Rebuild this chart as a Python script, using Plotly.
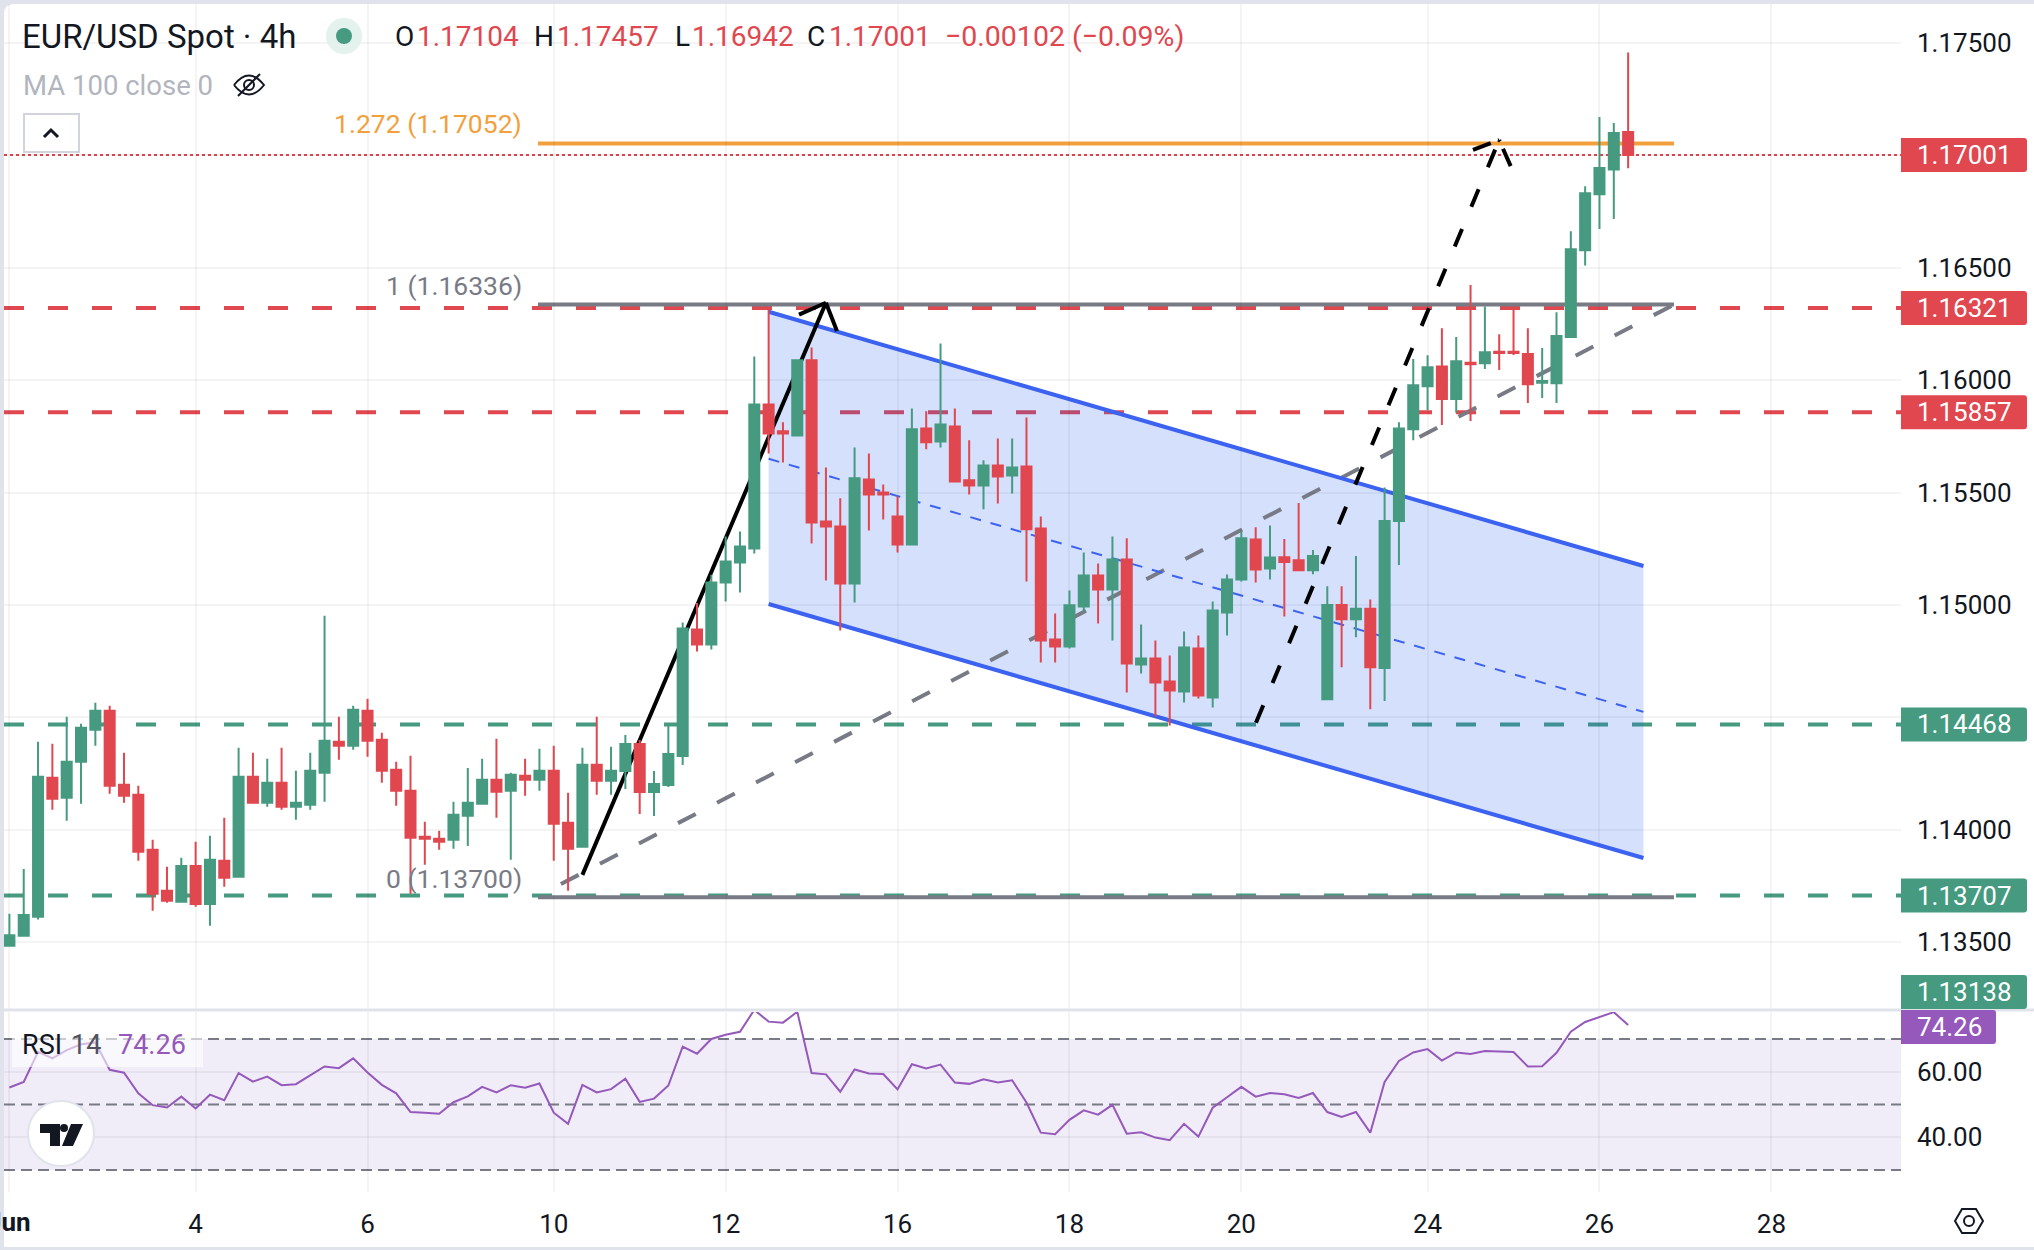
import plotly.graph_objs as go

W = 2034
H = 1250

# candle values, one per 4h bar
opens = [1.13484, 1.13528, 1.13613, 1.14231, 1.14142, 1.14302, 1.14445, 1.14529, 1.14200, 1.14155,
         1.13911, 1.13728, 1.13679, 1.13839, 1.13670, 1.13862, 1.13791, 1.14235, 1.14120, 1.14209,
         1.14102, 1.14111, 1.14253, 1.14391, 1.14373, 1.14529, 1.14400, 1.14267, 1.14173, 1.13969,
         1.13960, 1.13955, 1.14062, 1.14115, 1.14222, 1.14173, 1.14240, 1.14222, 1.14262, 1.14031,
         1.13924, 1.14289, 1.14218, 1.14261, 1.14381, 1.14168, 1.14199, 1.14328, 1.14891, 1.14824,
         1.15100, 1.15189, 1.15251, 1.15892, 1.15772, 1.15754, 1.16088, 1.15371, 1.15349, 1.15095,
         1.15558, 1.15500, 1.15393, 1.15269, 1.15785, 1.15727, 1.15794, 1.15554, 1.15531, 1.15620,
         1.15576, 1.15616, 1.15340, 1.14846, 1.14815, 1.14993, 1.15131, 1.15069, 1.15202, 1.14735,
         1.14762, 1.14659, 1.14615, 1.14806, 1.14588, 1.14966, 1.15113, 1.15291, 1.15162, 1.15212,
         1.15199, 1.15154, 1.14580, 1.14999, 1.14936, 1.14983, 1.14719, 1.15373, 1.15781, 1.15973,
         1.16061, 1.15916, 1.16077, 1.16075, 1.16126, 1.16126, 1.16116, 1.15988, 1.15986, 1.16192,
         1.16578, 1.16827, 1.16937, 1.17104]
highs = [1.13626, 1.13825, 1.14391, 1.14382, 1.14502, 1.14471, 1.14565, 1.14551, 1.14342, 1.14195,
         1.13955, 1.13835, 1.13875, 1.13946, 1.13973, 1.14053, 1.14364, 1.14342, 1.14316, 1.14364,
         1.14262, 1.14342, 1.14952, 1.14502, 1.14551, 1.14582, 1.14431, 1.14302, 1.14329, 1.14035,
         1.13995, 1.14124, 1.14275, 1.14316, 1.14405, 1.14253, 1.14316, 1.14360, 1.14373, 1.14164,
         1.14364, 1.14502, 1.14369, 1.14421, 1.14399, 1.14261, 1.14470, 1.14922, 1.15008, 1.15134,
         1.15304, 1.15327, 1.16105, 1.16314, 1.15812, 1.16092, 1.16145, 1.15611, 1.15474, 1.15700,
         1.15674, 1.15536, 1.15482, 1.15874, 1.15861, 1.16163, 1.15874, 1.15732, 1.15643, 1.15740,
         1.15740, 1.15834, 1.15393, 1.14962, 1.15064, 1.15233, 1.15184, 1.15304, 1.15296, 1.14913,
         1.14842, 1.14775, 1.14882, 1.14864, 1.15015, 1.15135, 1.15327, 1.15345, 1.15353, 1.15293,
         1.15453, 1.15244, 1.15083, 1.15083, 1.15218, 1.15024, 1.15522, 1.15812, 1.16094, 1.16110,
         1.16231, 1.16192, 1.16423, 1.16327, 1.16204, 1.16316, 1.16231, 1.16143, 1.16302, 1.16662,
         1.16862, 1.17170, 1.17144, 1.17457]
lows = [1.13484, 1.13528, 1.13601, 1.14089, 1.14040, 1.14115, 1.14373, 1.14160, 1.14120, 1.13862,
        1.13639, 1.13675, 1.13679, 1.13657, 1.13573, 1.13746, 1.13786, 1.14120, 1.14102, 1.14089,
        1.14044, 1.14089, 1.14124, 1.14311, 1.14356, 1.14324, 1.14209, 1.14106, 1.13715, 1.13844,
        1.13911, 1.13915, 1.13928, 1.14111, 1.14053, 1.13866, 1.14151, 1.14173, 1.13862, 1.13728,
        1.13920, 1.14155, 1.14155, 1.14181, 1.14070, 1.14061, 1.14190, 1.14288, 1.14793, 1.14802,
        1.15015, 1.15055, 1.15229, 1.15674, 1.15634, 1.15754, 1.15273, 1.15109, 1.14886, 1.15011,
        1.15331, 1.15380, 1.15233, 1.15269, 1.15692, 1.15700, 1.15545, 1.15491, 1.15425, 1.15451,
        1.15496, 1.15104, 1.14744, 1.14744, 1.14806, 1.14966, 1.14917, 1.14842, 1.14610, 1.14695,
        1.14504, 1.14464, 1.14566, 1.14584, 1.14544, 1.14864, 1.15104, 1.15100, 1.15113, 1.14948,
        1.15154, 1.15136, 1.14576, 1.14723, 1.14856, 1.14536, 1.14572, 1.15177, 1.15732, 1.15867,
        1.15800, 1.15855, 1.15818, 1.16049, 1.16045, 1.16112, 1.15898, 1.15920, 1.15898, 1.16192,
        1.16510, 1.16672, 1.16717, 1.16942]
closes = [1.13531, 1.13620, 1.14235, 1.14138, 1.14302, 1.14453, 1.14529, 1.14195, 1.14151, 1.13902,
          1.13715, 1.13684, 1.13839, 1.13670, 1.13866, 1.13786, 1.14235, 1.14120, 1.14209, 1.14102,
          1.14120, 1.14262, 1.14396, 1.14373, 1.14534, 1.14396, 1.14262, 1.14173, 1.13964, 1.13960,
          1.13946, 1.14066, 1.14120, 1.14222, 1.14169, 1.14244, 1.14222, 1.14262, 1.14026, 1.13915,
          1.14289, 1.14218, 1.14262, 1.14381, 1.14168, 1.14203, 1.14337, 1.14895, 1.14824, 1.15100,
          1.15193, 1.15260, 1.15892, 1.15763, 1.15763, 1.16088, 1.15367, 1.15349, 1.15095, 1.15563,
          1.15491, 1.15491, 1.15269, 1.15781, 1.15723, 1.15803, 1.15549, 1.15531, 1.15620, 1.15571,
          1.15611, 1.15336, 1.14842, 1.14815, 1.14998, 1.15131, 1.15069, 1.15202, 1.14739, 1.14762,
          1.14655, 1.14619, 1.14811, 1.14597, 1.14975, 1.15113, 1.15296, 1.15158, 1.15211, 1.15191,
          1.15154, 1.15218, 1.14999, 1.14936, 1.14983, 1.14723, 1.15373, 1.15785, 1.15977, 1.16057,
          1.15916, 1.16084, 1.16071, 1.16124, 1.16120, 1.16120, 1.15981, 1.15996, 1.16196, 1.16582,
          1.16831, 1.16943, 1.17099, 1.17001]
rsi = [55.2, 56.9, 66.1, 64.1, 66.6, 68.4, 68.9, 60.6, 59.7, 53.4,
       49.8, 49.1, 52.4, 48.8, 53.0, 51.3, 59.6, 57.0, 58.5, 55.9,
       56.2, 58.8, 61.6, 61.1, 64.1, 59.8, 56.0, 53.4, 47.7, 47.5,
       47.2, 50.7, 52.5, 55.4, 53.7, 55.9, 55.1, 56.4, 47.5, 44.1,
       56.0, 53.7, 54.7, 57.9, 50.8, 51.8, 55.8, 67.7, 65.5, 70.0,
       71.3, 72.2, 78.9, 75.3, 75.0, 78.3, 59.6, 59.2, 53.9, 60.7,
       59.5, 59.3, 54.6, 62.3, 61.0, 62.2, 56.7, 56.3, 57.7, 56.7,
       57.4, 50.6, 41.4, 40.9, 45.3, 48.2, 46.9, 49.9, 41.1, 41.5,
       39.9, 39.1, 44.1, 40.2, 49.0, 52.2, 55.4, 52.4, 53.5, 53.1,
       52.0, 53.5, 47.7, 46.2, 47.7, 41.4, 56.9, 63.3, 65.9, 66.9,
       63.4, 65.9, 65.4, 66.3, 66.2, 66.0, 61.6, 61.7, 65.8, 72.2,
       75.2, 76.6, 78.2, 74.26]

bars = list(range(len(opens)))

# the month label is cut by the pane edge, so it goes in as an annotation
date_ticks = [0, 13, 25, 38, 50, 62, 74, 86, 99, 111, 123]
date_labels = ['', '4', '6', '10', '12', '16', '18', '20', '24', '26', '28']
month_label = 'Jun'
price_ticks = [1.135, 1.14, 1.145, 1.15, 1.155, 1.16, 1.165, 1.17, 1.175]
price_labels = ['1.13500', '1.14000', '', '1.15000', '1.15500', '1.16000', '1.16500', '', '1.17500']
rsi_ticks = [40, 60]
rsi_labels = ['40.00', '60.00']

# levels on the price pane
red_levels = [1.16321, 1.15857]
green_levels = [1.14468, 1.13707]
last_close = 1.17001
fib_levels = [1.137, 1.16336, 1.17052]
fib_bars = [36.9, 116.2]

# drawings (bar index, price)
fib_trend = [(38.5, 1.13758), (116.2, 1.16336)]
solid_arrow = [(40, 1.13799), (57, 1.16344)]
solid_barbs = [(55.12, 1.16291), (57.77, 1.16218)]
dashed_arrow = [(87.02, 1.14476), (104, 1.17068)]
dashed_barbs = [(102.17, 1.17024), (104.8, 1.16952)]
channel_bars = [53, 114.07]
channel_upper = [1.16304, 1.15173]
channel_mid = [1.1565, 1.14524]
channel_lower = [1.15004, 1.13874]

GREEN = '#459a80'
RED = '#e0474f'
GREY = '#787b86'
BLUE = '#3b62f0'
ORANGE = '#f2a03c'
PURPLE = '#9558bb'
INK = '#131722'
GRID = 'rgba(42,46,57,0.05)'
FONT = 'Roboto'

# pixel scale of the panes
BAR0 = 9.4
BAR_PX = 14.325
PANE_L = 4
PANE_R = 1901
PRICE_TOP = 4
PRICE_BOTTOM = 1011
RSI_TOP = 1012
RSI_BOTTOM = 1192
PRICE_PX = 22480
Y175 = 42.9


def price_y(p):
    return Y175 + (1.175 - p) * PRICE_PX


def px_x(x):
    return x / W


def px_y(y):
    return 1 - y / H


def path(points, close=False):
    cmds = []
    for n, pt in enumerate(points):
        cmds.append(('M' if n == 0 else 'L') + ' %.5f %.5f' % (px_x(pt[0]), px_y(pt[1])))
    return ' '.join(cmds) + (' Z' if close else '')


def badge(x0, x1, yc, h, color):
    y0 = yc - h / 2
    y1 = yc + h / 2
    r = 3
    d = 'M %.5f %.5f L %.5f %.5f Q %.5f %.5f %.5f %.5f L %.5f %.5f Q %.5f %.5f %.5f %.5f L %.5f %.5f Z' % (
        px_x(x0), px_y(y0), px_x(x1 - r), px_y(y0), px_x(x1), px_y(y0), px_x(x1), px_y(y0 + r),
        px_x(x1), px_y(y1 - r), px_x(x1), px_y(y1), px_x(x1 - r), px_y(y1), px_x(x0), px_y(y1))
    return dict(type='path', path=d, xref='paper', yref='paper', fillcolor=color,
                line=dict(width=0), layer='above')


def label(x, y, text, color, size=28, anchor='left'):
    return dict(x=px_x(x), y=px_y(y), xref='paper', yref='paper', text=text, showarrow=False,
                xanchor=anchor, yanchor='middle', font=dict(family=FONT, size=size, color=color),
                borderpad=0, borderwidth=0)


def seg(a, b, color, width, dash='solid'):
    return dict(type='line', x0=a[0], y0=a[1], x1=b[0], y1=b[1], xref='x', yref='y',
                line=dict(color=color, width=width, dash=dash), layer='below')


candles = go.Candlestick(
    x=bars, open=opens, high=highs, low=lows, close=closes,
    increasing=dict(line=dict(color=GREEN, width=2), fillcolor=GREEN),
    decreasing=dict(line=dict(color=RED, width=2), fillcolor=RED),
    whiskerwidth=0, showlegend=False, hoverinfo='skip',
    xaxis='x', yaxis='y',
)

rsi_line = go.Scatter(
    x=bars, y=rsi, mode='lines',
    line=dict(color=PURPLE, width=2), showlegend=False, hoverinfo='skip',
    xaxis='x2', yaxis='y2',
)

shapes = []

# page: grey edge with the white chart card on it
shapes.append(dict(type='path', xref='paper', yref='paper', layer='below', line=dict(width=0), fillcolor='white',
                   path='M %.5f %.5f Q %.5f %.5f %.5f %.5f L %.5f %.5f L %.5f %.5f L %.5f %.5f Z' % (
                       px_x(4), px_y(14), px_x(4), px_y(4), px_x(14), px_y(4),
                       px_x(2034), px_y(4), px_x(2034), px_y(1247), px_x(4), px_y(1247))))

# channel fill
shapes.append(dict(type='path', xref='x', yref='y', layer='below', line=dict(width=0),
                   fillcolor='rgba(41,98,240,0.2)',
                   path='M %f %f L %f %f L %f %f L %f %f Z' % (
                       channel_bars[0], channel_upper[0], channel_bars[1], channel_upper[1],
                       channel_bars[1], channel_lower[1], channel_bars[0], channel_lower[0])))

# horizontal levels
for level in red_levels:
    shapes.append(dict(type='line', xref='paper', yref='y', x0=px_x(PANE_L), x1=px_x(PANE_R), y0=level, y1=level,
                       line=dict(color=RED, width=4, dash='20px,24px'), layer='below'))
for level in green_levels:
    shapes.append(dict(type='line', xref='paper', yref='y', x0=px_x(PANE_L), x1=px_x(PANE_R), y0=level, y1=level,
                       line=dict(color=GREEN, width=4, dash='20px,24px'), layer='below'))
shapes.append(dict(type='line', xref='paper', yref='y', x0=px_x(PANE_L), x1=px_x(PANE_R), y0=last_close, y1=last_close,
                   line=dict(color=RED, width=2, dash='3px,3px'), layer='between'))

# fib retracement
shapes.append(seg((fib_bars[0], fib_levels[0]), (fib_bars[1], fib_levels[0]), GREY, 4))
shapes.append(seg((fib_bars[0], fib_levels[1]), (fib_bars[1], fib_levels[1]), GREY, 4))
shapes.append(seg((fib_bars[0], fib_levels[2]), (fib_bars[1], fib_levels[2]), ORANGE, 4))
shapes.append(seg(fib_trend[0], fib_trend[1], GREY, 4, '20px,24px'))

# channel lines
shapes.append(seg((channel_bars[0], channel_upper[0]), (channel_bars[1], channel_upper[1]), BLUE, 4))
shapes.append(seg((channel_bars[0], channel_lower[0]), (channel_bars[1], channel_lower[1]), BLUE, 4))
shapes.append(seg((channel_bars[0], channel_mid[0]), (channel_bars[1], channel_mid[1]), BLUE, 2, '11px,10px'))

# arrows
shapes.append(seg(solid_arrow[0], solid_arrow[1], 'black', 4))
for barb in solid_barbs:
    shapes.append(seg(barb, solid_arrow[1], 'black', 4))
shapes.append(seg(dashed_arrow[0], dashed_arrow[1], 'black', 4, '19px,24px'))
for barb in dashed_barbs:
    shapes.append(seg(barb, dashed_arrow[1], 'black', 4, '19px,8px'))

# RSI band and levels
shapes.append(dict(type='rect', xref='paper', yref='y2', x0=px_x(PANE_L), x1=px_x(PANE_R), y0=30, y1=70,
                   fillcolor='#f0edf8', line=dict(width=0), layer='below'))
for level in [70, 50, 30]:
    shapes.append(dict(type='line', xref='paper', yref='y2', x0=px_x(PANE_L), x1=px_x(PANE_R), y0=level, y1=level,
                       line=dict(color=GREY, width=2, dash='11px,6px'), layer='between'))

# pane separator
shapes.append(dict(type='line', xref='paper', yref='paper', x0=px_x(PANE_L), x1=1, y0=px_y(1010), y1=px_y(1010),
                   line=dict(color='#e0e3eb', width=3), layer='above'))

# price badges
for value, color in [(last_close, RED), (red_levels[0], RED), (red_levels[1], RED),
                     (green_levels[0], GREEN), (green_levels[1], GREEN)]:
    shapes.append(badge(PANE_R, 2027, price_y(value), 34, color))
shapes.append(badge(PANE_R, 2027, 992, 34, GREEN))
shapes.append(badge(PANE_R, 1996, 1027, 34, PURPLE))

# RSI legend backing
shapes.append(dict(type='rect', xref='paper', yref='paper', x0=px_x(12), x1=px_x(203), y0=px_y(1038), y1=px_y(1067),
                   fillcolor='rgba(255,255,255,0.6)', line=dict(width=0), layer='above'))

# status dot
shapes.append(dict(type='circle', xref='paper', yref='paper', x0=px_x(326), x1=px_x(362), y0=px_y(18), y1=px_y(54),
                   fillcolor='#e4f2ee', line=dict(width=0), layer='above'))
shapes.append(dict(type='circle', xref='paper', yref='paper', x0=px_x(336), x1=px_x(352), y0=px_y(28), y1=px_y(44),
                   fillcolor=GREEN, line=dict(width=0), layer='above'))

# hidden-eye icon
shapes.append(dict(type='path', xref='paper', yref='paper', layer='above', line=dict(color=INK, width=2),
                   path='M %.5f %.5f Q %.5f %.5f %.5f %.5f Q %.5f %.5f %.5f %.5f' % (
                       px_x(234), px_y(85), px_x(249), px_y(66), px_x(264), px_y(85),
                       px_x(249), px_y(104), px_x(234), px_y(85))))
shapes.append(dict(type='circle', xref='paper', yref='paper', x0=px_x(244), x1=px_x(254), y0=px_y(80), y1=px_y(90),
                   line=dict(color=INK, width=2), layer='above'))
shapes.append(dict(type='path', xref='paper', yref='paper', layer='above', line=dict(color=INK, width=2),
                   path=path([(238, 96), (260, 74)])))

# collapse button
shapes.append(dict(type='rect', xref='paper', yref='paper', x0=px_x(24), x1=px_x(79), y0=px_y(114), y1=px_y(152),
                   line=dict(color='#d1d4dc', width=2), fillcolor='white', layer='above'))
shapes.append(dict(type='path', xref='paper', yref='paper', layer='above', line=dict(color=INK, width=3),
                   path=path([(44, 137), (51, 130), (58, 137)])))

# logo
shapes.append(dict(type='circle', xref='paper', yref='paper', x0=px_x(28), x1=px_x(94), y0=px_y(1101), y1=px_y(1166),
                   fillcolor='white', line=dict(color='#e0e3eb', width=2), layer='above'))
shapes.append(dict(type='path', xref='paper', yref='paper', layer='above', line=dict(width=0), fillcolor=INK,
                   path=path([(40, 1124), (60, 1124), (60, 1146), (50, 1146), (50, 1133), (40, 1133)], True)))
shapes.append(dict(type='path', xref='paper', yref='paper', layer='above', line=dict(width=0), fillcolor=INK,
                   path=path([(71, 1124), (83, 1124), (73, 1146), (62, 1146)], True)))
shapes.append(dict(type='circle', xref='paper', yref='paper', x0=px_x(60), x1=px_x(68), y0=px_y(1124), y1=px_y(1132),
                   fillcolor=INK, line=dict(width=0), layer='above'))

# settings icon
shapes.append(dict(type='path', xref='paper', yref='paper', layer='above', line=dict(color=INK, width=2),
                   path=path([(1955, 1221), (1962, 1209), (1976, 1209), (1983, 1221), (1976, 1233), (1962, 1233)], True)))
shapes.append(dict(type='circle', xref='paper', yref='paper', x0=px_x(1964), x1=px_x(1974), y0=px_y(1216), y1=px_y(1226),
                   line=dict(color=INK, width=2), layer='above'))

annotations = [
    label(22, 37, 'EUR/USD Spot · 4h', INK, 33),
    label(395, 37, 'O', INK),
    label(417, 37, '1.17104', RED),
    label(534, 37, 'H', INK),
    label(557, 37, '1.17457', RED),
    label(675, 37, 'L', INK),
    label(692, 37, '1.16942', RED),
    label(807, 37, 'C', INK),
    label(829, 37, '1.17001', RED),
    label(945, 37, '−0.00102 (−0.09%)', RED, 28.5),
    label(23, 85, 'MA 100 close 0', '#b2b5be', 27.5),
    label(522, 124, '1.272 (1.17052)', ORANGE, 26.5, 'right'),
    label(522, 285, '1 (1.16336)', GREY, 26.5, 'right'),
    label(522, 878, '0 (1.13700)', GREY, 26.5, 'right'),
    label(22, 1045, 'RSI', INK, 27),
    label(71, 1045, '14', '#50535e', 27),
    label(118, 1045, '74.26', PURPLE, 27),
    label(31, 1222, '<b>' + month_label + '</b>', INK, 26, 'right'),
]
for value in [last_close, red_levels[0], red_levels[1], green_levels[0], green_levels[1]]:
    annotations.append(label(1917, price_y(value), '%.5f' % value, 'white', 26))
annotations.append(label(1917, 992, '1.13138', 'white', 26))
annotations.append(label(1917, 1027, '74.26', 'white', 26))

x_range = [(PANE_L - BAR0) / BAR_PX, (PANE_R - BAR0) / BAR_PX]

layout = go.Layout(
    width=W,
    height=H,
    margin=dict(l=0, r=0, t=0, b=0),
    paper_bgcolor='#e0e3eb',
    plot_bgcolor='rgba(0,0,0,0)',
    font=dict(family=FONT, color=INK),
    boxgap=0.3,
    boxgroupgap=0,
    xaxis=dict(
        domain=[px_x(PANE_L), px_x(PANE_R)],
        range=x_range,
        anchor='y',
        tickvals=date_ticks,
        showticklabels=False,
        showgrid=True,
        gridcolor=GRID,
        gridwidth=2,
        zeroline=False,
        rangeslider=dict(visible=False),
    ),
    yaxis=dict(
        domain=[px_y(PRICE_BOTTOM), px_y(PRICE_TOP)],
        range=[1.175 - (PRICE_BOTTOM - Y175) / PRICE_PX, 1.175 + (Y175 - PRICE_TOP) / PRICE_PX],
        anchor='x',
        side='right',
        tickvals=price_ticks,
        ticktext=price_labels,
        tickfont=dict(family=FONT, size=26, color=INK),
        ticklabelstandoff=15,
        showgrid=True,
        gridcolor=GRID,
        gridwidth=2,
        zeroline=False,
    ),
    xaxis2=dict(
        domain=[px_x(PANE_L), px_x(PANE_R)],
        range=x_range,
        anchor='y2',
        tickvals=date_ticks,
        ticktext=date_labels,
        tickangle=0,
        tickfont=dict(family=FONT, size=26, color=INK),
        ticklabelstandoff=14,
        showgrid=True,
        gridcolor=GRID,
        gridwidth=2,
        zeroline=False,
    ),
    yaxis2=dict(
        domain=[px_y(RSI_BOTTOM), px_y(RSI_TOP)],
        range=[70 - (RSI_BOTTOM - 1039) / 3.275, 70 + (1039 - RSI_TOP) / 3.275],
        anchor='x2',
        side='right',
        tickvals=rsi_ticks,
        ticktext=rsi_labels,
        tickfont=dict(family=FONT, size=26, color=INK),
        ticklabelstandoff=15,
        showgrid=True,
        gridcolor=GRID,
        gridwidth=2,
        zeroline=False,
    ),
    shapes=shapes,
    annotations=annotations,
)

fig = go.Figure(data=[candles, rsi_line], layout=layout)

fig.write_html("out.html", config=dict(displayModeBar=False),
               post_script="document.body.style.margin='0';")
